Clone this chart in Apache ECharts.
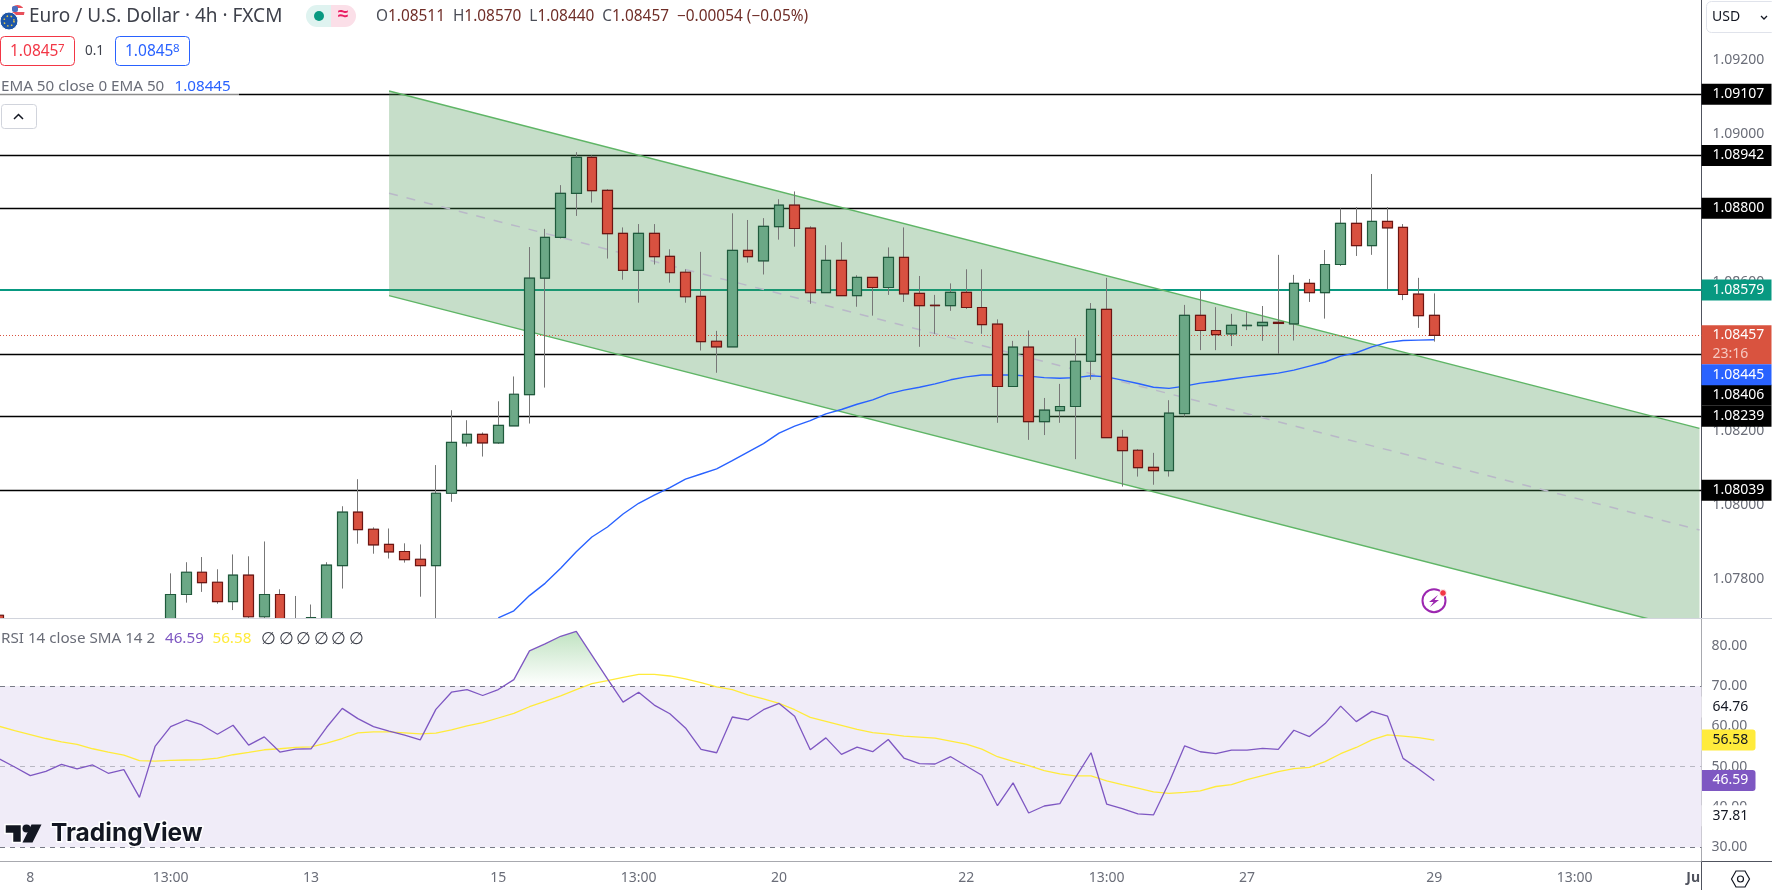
<!DOCTYPE html>
<html>
<head>
<meta charset="utf-8">
<title>EUR/USD 4h</title>
<style>html,body{margin:0;padding:0;background:#fff}#chart{width:1772px;height:890px}</style>
<script src="https://cdn.jsdelivr.net/npm/echarts@6/dist/echarts.min.js"></script>
</head>
<body>
<div id="chart"></div>
<script>
// 4h EUR/USD candles; bars 1-10 sit below the visible price range.
const opens = [1.07702,null,null,null,null,null,null,null,null,null,null,
1.07653,1.07758,1.07818,1.07791,1.07739,1.07810,1.07698,1.07758,1.07644,1.07667,
1.07653,1.07836,1.07980,1.07934,1.07893,1.07874,1.07853,1.07836,1.08031,1.08167,
1.08190,1.08167,1.08213,1.08297,1.08611,1.08721,1.08840,1.08937,1.08848,1.08732,
1.08632,1.08732,1.08670,1.08627,1.08562,1.08441,1.08426,1.08686,1.08658,1.08750,
1.08808,1.08746,1.08572,1.08659,1.08564,1.08613,1.08586,1.08667,1.08570,1.08538,
1.08537,1.08573,1.08532,1.08487,1.08319,1.08425,1.08224,1.08254,1.08265,1.08387,
1.08527,1.08182,1.08147,1.08101,1.08092,1.08246,1.08511,1.08470,1.08461,1.08483,
1.08483,1.08492,1.08488,1.08597,1.08572,1.08648,1.08759,1.08699,1.08764,1.08748,
1.08568,1.08511];
const highs = [1.07707,null,null,null,null,null,null,null,null,null,null,
1.07815,1.07845,1.07859,1.07826,1.07866,1.07861,1.07901,1.07772,1.07754,1.07731,
1.07845,1.07996,1.08069,1.07939,1.07936,1.07896,1.07893,1.08107,1.08255,1.08228,
1.08195,1.08279,1.08346,1.08695,1.08744,1.08862,1.08951,1.08942,1.08851,1.08748,
1.08757,1.08757,1.08689,1.08635,1.08682,1.08469,1.08786,1.08768,1.08773,1.08824,
1.08845,1.08751,1.08700,1.08708,1.08619,1.08613,1.08694,1.08748,1.08617,1.08566,
1.08597,1.08635,1.08635,1.08500,1.08442,1.08470,1.08288,1.08326,1.08450,1.08544,
1.08612,1.08202,1.08150,1.08140,1.08282,1.08539,1.08579,1.08533,1.08515,1.08519,
1.08536,1.08674,1.08620,1.08609,1.08687,1.08799,1.08803,1.08892,1.08803,1.08757,
1.08612,1.08570];
const lows = [1.07608,null,null,null,null,null,null,null,null,null,null,
1.07617,1.07736,1.07765,1.07733,1.07716,1.07694,1.07694,1.07644,1.07626,1.07662,
1.07644,1.07774,1.07895,1.07868,1.07855,1.07844,1.07752,1.07653,1.08008,1.08157,
1.08130,1.08164,1.08213,1.08219,1.08316,1.08718,1.08779,1.08815,1.08664,1.08607,
1.08545,1.08648,1.08599,1.08545,1.08416,1.08356,1.08426,1.08653,1.08621,1.08715,
1.08696,1.08542,1.08572,1.08564,1.08534,1.08510,1.08566,1.08547,1.08426,1.08461,
1.08523,1.08528,1.08461,1.08221,1.08319,1.08175,1.08188,1.08221,1.08123,1.08337,
1.08181,1.08049,1.08076,1.08054,1.08076,1.08238,1.08417,1.08417,1.08428,1.08471,
1.08442,1.08407,1.08443,1.08547,1.08502,1.08644,1.08671,1.08674,1.08582,1.08552,
1.08477,1.08440];
const closes = [1.07653,null,null,null,null,null,null,null,null,null,null,
1.07758,1.07818,1.07790,1.07739,1.07810,1.07698,1.07758,1.07667,1.07671,1.07696,
1.07837,1.07980,1.07933,1.07892,1.07873,1.07852,1.07836,1.08031,1.08168,1.08190,
1.08167,1.08214,1.08298,1.08611,1.08721,1.08840,1.08937,1.08847,1.08731,1.08632,
1.08732,1.08669,1.08626,1.08561,1.08440,1.08426,1.08686,1.08669,1.08751,1.08808,
1.08745,1.08572,1.08659,1.08564,1.08613,1.08586,1.08667,1.08569,1.08537,1.08537,
1.08573,1.08532,1.08486,1.08319,1.08425,1.08224,1.08255,1.08265,1.08387,1.08527,
1.08181,1.08146,1.08100,1.08092,1.08247,1.08511,1.08470,1.08459,1.08484,1.08484,
1.08492,1.08489,1.08597,1.08572,1.08648,1.08759,1.08699,1.08764,1.08747,1.08567,
1.08510,1.08457];

// EMA 50 of the close; values start at bar 32, where it enters the visible range.
const emaStart = 32;
const ema50 = [1.07695,1.07714,1.07755,1.07788,1.07829,1.07873,1.07913,1.07940,1.07975,1.08004,
1.08026,1.08046,1.08069,1.08083,1.08097,1.08119,1.08142,1.08165,1.08193,1.08212,
1.08227,1.08245,1.08257,1.08271,1.08283,1.08299,1.08309,1.08317,1.08326,1.08337,
1.08345,1.08350,1.08350,1.08350,1.08347,1.08343,1.08341,1.08343,1.08348,1.08345,
1.08336,1.08327,1.08317,1.08314,1.08320,1.08328,1.08333,1.08339,1.08345,1.08350,
1.08355,1.08363,1.08374,1.08385,1.08401,1.08410,1.08426,1.08438,1.08443,1.08444,1.08445];

// RSI 14 and its SMA 14, one value per bar.
const rsi14 = [51.97,49.92,47.79,48.85,50.57,49.43,50.41,48.36,49.26,42.38,55.00,
59.92,61.56,60.33,58.03,60.25,55.33,57.38,53.61,54.34,54.43,
59.75,64.43,61.89,59.92,58.77,57.79,56.64,64.18,68.44,69.10,
67.62,69.10,71.56,78.69,80.41,82.30,83.52,77.62,71.72,65.98,
68.44,65.25,63.11,59.59,54.26,53.44,62.30,61.56,64.10,65.66,
62.46,54.18,57.13,53.03,54.84,53.69,56.72,52.13,50.74,50.66,
52.46,50.16,47.87,40.33,45.98,38.52,40.25,40.82,47.30,53.44,
40.74,39.59,38.28,38.03,46.07,55.16,53.69,53.20,54.10,54.10,
54.51,54.26,59.02,57.46,60.66,65.00,61.15,63.69,62.54,52.05,
49.43,46.59];
const rsiSma = [60.00,58.93,57.95,56.97,56.15,55.49,54.43,53.61,52.87,51.48,51.39,
51.56,51.64,51.72,52.13,52.95,53.52,54.18,54.43,54.75,54.92,
55.82,56.97,58.36,58.61,58.61,58.36,58.11,58.28,59.10,60.08,
60.90,62.05,63.20,64.84,66.15,67.54,69.10,70.57,71.31,72.13,
72.87,72.87,72.46,71.72,70.82,69.75,69.10,67.79,66.80,65.66,
64.10,62.21,61.23,60.25,59.26,58.44,58.03,57.54,57.30,57.05,
56.31,55.57,54.34,52.46,51.31,50.25,49.02,48.20,47.70,47.70,
46.48,45.57,44.67,43.77,43.36,43.61,44.02,45.08,45.57,46.80,
47.79,48.77,49.51,49.84,51.23,53.20,54.75,56.64,57.87,57.54,
57.21,56.58];

// Drawn levels and the falling channel (bar position, upper, lower, median).
const levels = [1.09107,1.08942,1.08800,1.08406,1.08239,1.08039];
const levelTagShift = [0,0,0,41,0,0];
const pivotLevel = 1.08579;
const lastClose = 1.08457;
const channelBars = [25,109];
const channelUpper = [1.09116,1.08206];
const channelLower = [1.08564,1.07657];
const channelMedian = [1.08840,1.07932];

// Axis ticks.
const priceTicks = [1.078,1.08,1.082,1.084,1.086,1.088,1.09,1.092];
const rsiTicks = [30,40,50,60,70,80];
const timeTickBars = [2,11,20,32,41,50,62,71,80,92,101,108.6];
const timeTickLabels = ['8','13:00','13','15','13:00','20','22','13:00','27','29','13:00','Ju'];

const FONT = '"Noto Sans", sans-serif';
const AXIS_GRAY = '#6a6d78';
const RIGHT_EDGE = 1701.5;

const candles = [], bodies = [];
opens.forEach((o, i) => {
  if (o === null) return;
  candles.push([i, o, closes[i], lows[i], highs[i]]);
  bodies.push([i, o, closes[i], Math.min(o, closes[i]), Math.max(o, closes[i])]);
});

// Portion of the RSI above 70, closed at its two crossings of the band.
const overbought = [];
rsi14.forEach((v, i) => {
  const prev = rsi14[i - 1];
  if (i > 0 && (v > 70) !== (prev > 70)) {
    overbought.push([i - 1 + (70 - prev) / (v - prev), 70]);
  }
  if (v > 70) overbought.push([i, v]);
});

function tagLabel(bg, color, width, extra) {
  return Object.assign({
    show: true, position: 'end', distance: 0, align: 'left', verticalAlign: 'middle', opacity: 1,
    formatter: p => p.name, backgroundColor: bg, color: color, fontFamily: FONT, fontSize: 14,
    padding: [0, 0, 0, 11], width: width, height: 21, lineHeight: 21
  }, extra || {});
}

const sharedX = { type: 'value', min: 0.06, max: 109.13, splitLine: { show: false } };

function txt(x, y, text, fill, size, extra) {
  return {
    type: 'text', z: 20, x: x, y: y,
    style: Object.assign({ text: text, fill: fill, fontSize: size, fontFamily: FONT, verticalAlign: 'middle', align: 'left' }, extra || {})
  };
}
function box(x, y, w, h, r, fill, stroke, z) {
  return { type: 'rect', z: z || 20, shape: { x: x, y: y, width: w, height: h, r: r }, style: { fill: fill, stroke: stroke || null, lineWidth: 1 } };
}
function seg(x1, y1, x2, y2, color, z) {
  return { type: 'line', z: z === undefined ? 0 : z, shape: { x1: x1, y1: y1, x2: x2, y2: y2 }, style: { stroke: color, lineWidth: 1 } };
}

const chrome = [
  // The RSI pane starts with a clean white sheet so candles below the price range stop at the divider.
  box(0, 618.5, RIGHT_EDGE, 243, 0, '#fff', null, 6),
  seg(0, 618.5, 1772, 618.5, '#d1d4dc', 7),
  seg(0, 861.5, 1772, 861.5, '#50535e'),
  seg(RIGHT_EDGE, 0, RIGHT_EDGE, 890, '#50535e'),

  // Symbol badges
  { type: 'circle', z: 20, shape: { cx: 17.5, cy: 12, r: 7 }, style: {
      fill: { type: 'linear', x: 0, y: 0, x2: 0, y2: 1, colorStops: [
        { offset: 0, color: '#e8505b' }, { offset: .25, color: '#e8505b' }, { offset: .25, color: '#fff' },
        { offset: .5, color: '#fff' }, { offset: .5, color: '#e8505b' }, { offset: .75, color: '#e8505b' },
        { offset: .75, color: '#fff' }, { offset: 1, color: '#fff' }] } } },
  { type: 'rect', z: 20, shape: { x: 12, y: 6, width: 6, height: 6, r: 2 }, style: { fill: '#4a6fc0' } },
  { type: 'circle', z: 21, shape: { cx: 9, cy: 21, r: 9 }, style: { fill: '#1d56a8', stroke: '#fff', lineWidth: 1 } },
  { type: 'circle', z: 21, shape: { cx: 9, cy: 21, r: 5 }, style: { fill: 'none', stroke: '#e6c94a', lineWidth: 1.5, lineDash: [1.5, 2.6] } },

  txt(29, 16.5, 'Euro / U.S. Dollar · 4h · FXCM', '#3e414b', 19),

  // Market status pill
  box(306, 5, 25, 22, [11, 0, 0, 11], '#dff3f0'),
  box(331, 5, 25, 22, [0, 11, 11, 0], '#fbdfe8'),
  { type: 'circle', z: 21, shape: { cx: 319, cy: 16, r: 5 }, style: { fill: '#089981' } },
  txt(343, 15, '≈', '#e91e63', 19, { align: 'center', fontWeight: 'bold' }),

  // OHLC readout
  { type: 'text', z: 20, x: 376, y: 16.5, style: {
      text: '{l|O}{v|1.08511}  {l|H}{v|1.08570}  {l|L}{v|1.08440}  {l|C}{v|1.08457}  {v|−0.00054 (−0.05%)}',
      fontFamily: FONT, fontSize: 15.4, verticalAlign: 'middle',
      rich: { l: { fill: '#4a4d57', fontFamily: FONT, fontSize: 15.4 }, v: { fill: '#6f2d27', fontFamily: FONT, fontSize: 15.4 } } } },

  // Bid / ask boxes
  box(0.5, 36.5, 74, 29, 4, '#fff', '#f23645'),
  txt(10, 52, '1.0845', '#f23645', 15.5),
  txt(58, 49, '7', '#f23645', 11.5),
  txt(85, 51, '0.1', '#3e414b', 13.5),
  box(115.5, 36.5, 74, 29, 4, '#fff', '#2962ff'),
  txt(125, 52, '1.0845', '#2962ff', 15.5),
  txt(173, 49, '8', '#2962ff', 11.5),

  // Indicator legend over the chart
  box(0, 78, 239, 18, 0, 'rgba(255,255,255,.55)', null, 19),
  txt(1, 87, 'EMA 50 close 0 EMA 50', AXIS_GRAY, 15.2),
  txt(174.5, 87, '1.08445', '#2962ff', 15.2),
  box(1.5, 104.5, 35, 24, 3, '#fff', '#d1d4dc'),
  { type: 'polyline', z: 21, shape: { points: [[14, 119], [18.5, 114.5], [23, 119]] }, style: { fill: 'none', stroke: '#131722', lineWidth: 1.5 } },

  // RSI legend
  txt(1, 639, 'RSI 14 close SMA 14 2', AXIS_GRAY, 15.2),
  txt(165, 639, '46.59', '#7e57c2', 15.2),
  txt(212.5, 639, '56.58', '#ffeb3b', 15.2),
  txt(261, 639, '∅', '#3e414b', 17),
  txt(279, 639, '∅', '#3e414b', 17),
  txt(296, 639, '∅', '#3e414b', 17),
  txt(314, 639, '∅', '#3e414b', 17),
  txt(331, 639, '∅', '#3e414b', 17),
  txt(349, 639, '∅', '#3e414b', 17),

  // Currency selector
  box(1706.5, 1.5, 70, 31, 5, '#fff', '#e0e3eb'),
  txt(1712, 17, 'USD', '#131722', 14),
  { type: 'polyline', z: 21, shape: { points: [[1761, 16], [1764, 19], [1767, 16]] }, style: { fill: 'none', stroke: '#131722', lineWidth: 1.3 } },

  // Settings hexagon in the corner
  { type: 'polygon', z: 20, shape: { points: [[1731.5, 879], [1736, 871], [1745, 871], [1749.5, 879], [1745, 887], [1736, 887]] }, style: { fill: 'none', stroke: '#131722', lineWidth: 1.2 } },
  { type: 'circle', z: 20, shape: { cx: 1740.5, cy: 879, r: 3 }, style: { fill: 'none', stroke: '#131722', lineWidth: 1.2 } },

  // Lightning marker near the last bars
  { type: 'circle', z: 20, shape: { cx: 1434, cy: 600.7, r: 11.5 }, style: { fill: 'none', stroke: '#9c27b0', lineWidth: 2 } },
  { type: 'polygon', z: 21, shape: { points: [[1438, 595], [1429, 602], [1433.5, 602], [1430, 607], [1439, 600], [1434.5, 600]] }, style: { fill: '#9c27b0' } },
  { type: 'circle', z: 21, shape: { cx: 1443, cy: 593, r: 3.4 }, style: { fill: '#f23645', stroke: '#fff', lineWidth: 1 } },

  // TradingView wordmark
  { type: 'polygon', z: 20, shape: { points: [[5, 824.5], [21.5, 824.5], [21.5, 842.5], [12.5, 842.5], [12.5, 833.5], [5, 833.5]] }, style: { fill: '#131722', stroke: '#fff', lineWidth: 1.5 } },
  { type: 'circle', z: 20, shape: { cx: 26.5, cy: 828.5, r: 4 }, style: { fill: '#131722' } },
  { type: 'polygon', z: 20, shape: { points: [[41.5, 824.5], [32.5, 842.5], [22.5, 842.5], [31.5, 824.5]] }, style: { fill: '#131722' } },
  { type: 'text', z: 20, x: 51, y: 834, style: { text: 'TradingView', fontFamily: 'Inter, sans-serif', fontWeight: 700, fontSize: 24.5, fill: '#131722', stroke: '#fff', lineWidth: 3, verticalAlign: 'middle' } }
];

const MARK = { silent: true, symbol: 'none', animation: false, precision: 6 };

const option = {
  animation: false,
  backgroundColor: '#fff',
  grid: [
    { left: 0, top: 0, width: RIGHT_EDGE, height: 618 },
    { left: 0, top: 618.5, width: RIGHT_EDGE, height: 243 }
  ],
  xAxis: [
    Object.assign({}, sharedX, { gridIndex: 0, show: false }),
    Object.assign({}, sharedX, {
      gridIndex: 1,
      axisLine: { show: false }, axisTick: { show: false },
      axisLabel: {
        customValues: timeTickBars, margin: 10, color: AXIS_GRAY, fontFamily: FONT, fontSize: 14,
        formatter: v => {
          const t = timeTickLabels[timeTickBars.indexOf(v)];
          return t === 'Ju' ? '{m|Ju}' : t;
        },
        rich: { m: { fontWeight: 'bold', color: '#50535e', fontFamily: FONT, fontSize: 14 } }
      }
    })
  ],
  yAxis: [
    {
      type: 'value', gridIndex: 0, position: 'right', min: 1.076946, max: 1.093613, z: 0,
      splitLine: { show: false }, axisLine: { show: false }, axisTick: { show: false },
      axisLabel: { customValues: priceTicks, margin: 11, color: AXIS_GRAY, fontFamily: FONT, fontSize: 14, formatter: v => v.toFixed(5) }
    },
    {
      type: 'value', gridIndex: 1, position: 'right', min: 26.5, max: 86.7, z: 0,
      splitLine: { show: false }, axisLine: { show: false }, axisTick: { show: false },
      axisLabel: { customValues: rsiTicks, margin: 10, color: AXIS_GRAY, fontFamily: FONT, fontSize: 14, formatter: v => v.toFixed(2) }
    }
  ],
  graphic: { elements: chrome },
  series: [
    // Horizontal levels sit under the channel fill.
    {
      name: 'levels', type: 'line', z: 1, xAxisIndex: 0, yAxisIndex: 0, data: [], silent: true,
      markLine: Object.assign({}, MARK, {
        z: 1,
        lineStyle: { color: '#000', width: 1.4, type: 'solid' },
        data: levels.map((v, k) => ({
          name: v.toFixed(5), yAxis: v,
          label: tagLabel('#000', '#fff', 59, { offset: [0, levelTagShift[k]] })
        })).concat([{
          name: pivotLevel.toFixed(5), yAxis: pivotLevel,
          lineStyle: { color: '#089981', width: 2.2, type: 'solid' },
          label: tagLabel('#089981', '#fff', 59)
        }])
      })
    },
    {
      name: 'channel', type: 'custom', z: 2, xAxisIndex: 0, yAxisIndex: 0, clip: true, silent: true,
      data: [[channelBars[0], channelUpper[0]]],
      renderItem: (params, api) => {
        const up = channelBars.map((b, k) => api.coord([b, channelUpper[k]]));
        const lo = channelBars.map((b, k) => api.coord([b, channelLower[k]]));
        const mid = channelBars.map((b, k) => api.coord([b, channelMedian[k]]));
        const edge = (pts, stroke, width, dash) => ({
          type: 'line',
          shape: { x1: pts[0][0], y1: pts[0][1], x2: pts[1][0], y2: pts[1][1] },
          style: { stroke: stroke, lineWidth: width, lineDash: dash || null, fill: null }
        });
        return {
          type: 'group',
          children: [
            { type: 'polygon', shape: { points: [up[0], up[1], lo[1], lo[0]] }, style: { fill: 'rgba(67,145,75,.3)' } },
            edge(up, '#5fb566', 1.5),
            edge(lo, '#5fb566', 1.5),
            edge(mid, '#b9b8c8', 1.5, [9, 9])
          ]
        };
      }
    },
    {
      name: 'last', type: 'line', z: 3, xAxisIndex: 0, yAxisIndex: 0, data: [], silent: true,
      markLine: Object.assign({}, MARK, {
        z: 3,
        lineStyle: { color: '#d9533f', width: 1, type: [1, 2] },
        data: [{
          name: lastClose.toFixed(5), yAxis: lastClose,
          label: tagLabel('#d9533f', '#fff', 59, {
            offset: [0, 9.5], height: 39, lineHeight: 19,
            formatter: p => '{a|' + p.name + '}\n{b|23:16}',
            rich: {
              a: { color: '#fff', fontFamily: FONT, fontSize: 14, lineHeight: 19 },
              b: { color: '#f6c9c2', fontFamily: FONT, fontSize: 14, lineHeight: 19 }
            }
          })
        }]
      })
    },
    {
      name: 'EMA 50', type: 'line', z: 3, xAxisIndex: 0, yAxisIndex: 0, showSymbol: false, silent: true,
      data: ema50.map((v, k) => [emaStart + k, v]),
      lineStyle: { color: '#2962ff', width: 1.4 },
      markLine: Object.assign({}, MARK, {
        z: 3,
        data: [{
          name: ema50[ema50.length - 1].toFixed(5), yAxis: ema50[ema50.length - 1],
          lineStyle: { opacity: 0 },
          label: tagLabel('#2962ff', '#fff', 59, { offset: [0, 35] })
        }]
      })
    },
    // Wicks first, bodies with their dark outline on top.
    {
      name: 'wicks', type: 'candlestick', z: 4, xAxisIndex: 0, yAxisIndex: 0, barWidth: 10, silent: true,
      data: candles,
      itemStyle: { color: '#777', color0: '#777', borderColor: '#777', borderColor0: '#777', borderWidth: 1 }
    },
    {
      name: 'EUR/USD', type: 'candlestick', z: 5, xAxisIndex: 0, yAxisIndex: 0, barWidth: 10, silent: true,
      data: bodies,
      itemStyle: { color: '#6ba886', color0: '#d85140', borderColor: '#1f5a3c', borderColor0: '#6d1512', borderWidth: 1.2 }
    },
    // RSI pane
    {
      name: 'rsiBands', type: 'line', z: 7, xAxisIndex: 1, yAxisIndex: 1, data: [], silent: true,
      markArea: {
        silent: true, animation: false, z: 7,
        itemStyle: { color: '#f0ecf8' },
        data: [[{ yAxis: 70 }, { yAxis: 30 }]]
      },
      markLine: Object.assign({}, MARK, {
        z: 8,
        lineStyle: { color: '#787b86', width: 1, type: [5, 5] },
        label: { show: false },
        data: [
          { yAxis: 70 },
          { yAxis: 50, lineStyle: { color: '#b8b8c2', width: 1, type: [5, 5] } },
          { yAxis: 30 }
        ]
      })
    },
    {
      name: 'overbought', type: 'line', z: 8, xAxisIndex: 1, yAxisIndex: 1, showSymbol: false, silent: true,
      data: overbought,
      lineStyle: { width: 0 },
      areaStyle: {
        origin: 70,
        color: { type: 'linear', x: 0, y: 0, x2: 0, y2: 1, colorStops: [
          { offset: 0, color: 'rgba(76,175,80,.5)' }, { offset: 1, color: 'rgba(76,175,80,0)' }] }
      }
    },
    {
      name: 'RSI SMA', type: 'line', z: 9, xAxisIndex: 1, yAxisIndex: 1, showSymbol: false, silent: true,
      data: rsiSma.map((v, i) => [i, v]),
      lineStyle: { color: '#ffeb3b', width: 1.3 },
      markLine: Object.assign({}, MARK, {
        data: [
          { name: '64.76', yAxis: 64.76, lineStyle: { opacity: 0 }, label: tagLabel('#fff', '#131722', 43) },
          { name: '37.81', yAxis: 37.81, lineStyle: { opacity: 0 }, label: tagLabel('#fff', '#131722', 43) },
          { name: rsiSma[rsiSma.length - 1].toFixed(2), yAxis: rsiSma[rsiSma.length - 1], lineStyle: { opacity: 0 },
            label: tagLabel('#ffeb3b', '#131722', 43, { borderRadius: [0, 3, 3, 0] }) }
        ]
      })
    },
    {
      name: 'RSI', type: 'line', z: 10, xAxisIndex: 1, yAxisIndex: 1, showSymbol: false, silent: true,
      data: rsi14.map((v, i) => [i, v]),
      lineStyle: { color: '#7e57c2', width: 1.3 },
      markLine: Object.assign({}, MARK, {
        data: [
          { name: rsi14[rsi14.length - 1].toFixed(2), yAxis: rsi14[rsi14.length - 1], lineStyle: { opacity: 0 },
            label: tagLabel('#7e57c2', '#fff', 43, { borderRadius: [0, 3, 3, 0] }) }
        ]
      })
    }
  ]
};

const chart = echarts.init(document.getElementById('chart'), null, { renderer: 'canvas' });
chart.setOption(option);
</script>
</body>
</html>
